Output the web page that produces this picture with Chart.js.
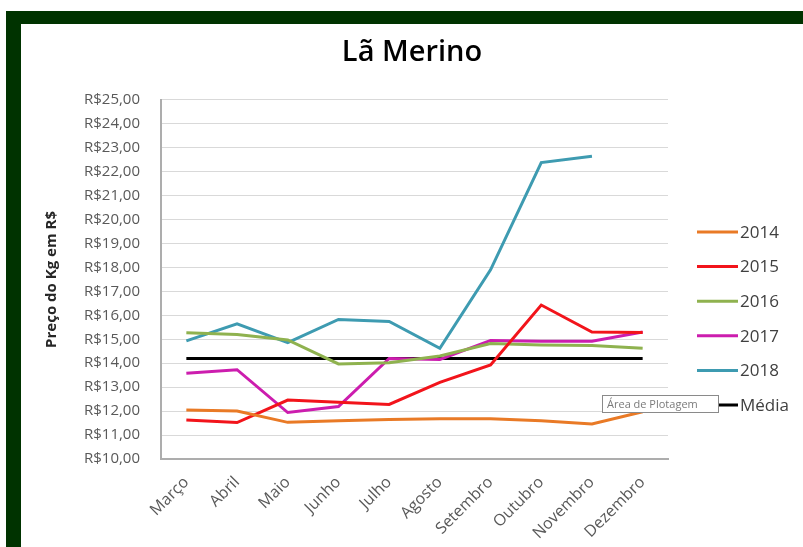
<!DOCTYPE html>
<html>
<head>
<meta charset="utf-8">
<script src="https://cdn.jsdelivr.net/npm/chart.js@4.4.0/dist/chart.umd.min.js"></script>
<style>
  html, body { margin: 0; padding: 0; background: #fff; }
  #frame { position: absolute; left: 6px; top: 11px; width: 797px; height: 536px; background: #003300; }
  #box { position: absolute; left: 21px; top: 24px; width: 782px; height: 523px; background: #fff; }
</style>
</head>
<body>
<div id="frame"></div>
<div id="box"><canvas id="laChart"></canvas></div>
<script>
// months on the x axis
const months = ['Março', 'Abril', 'Maio', 'Junho', 'Julho', 'Agosto', 'Setembro', 'Outubro', 'Novembro', 'Dezembro'];

// price per kg (R$)
const y2014 = [12.05, 12.0, 11.53, 11.6, 11.65, 11.68, 11.68, 11.6, 11.46, 11.97];
const y2015 = [11.63, 11.52, 12.46, 12.37, 12.28, 13.2, 13.93, 16.43, 15.3, 15.28];
const y2016 = [15.27, 15.2, 14.97, 13.97, 14.02, 14.3, 14.82, 14.76, 14.74, 14.62];
const y2017 = [13.58, 13.73, 11.94, 12.19, 14.2, 14.16, 14.95, 14.92, 14.92, 15.3];
const y2018 = [14.93, 15.64, 14.86, 15.83, 15.74, 14.62, 17.9, 22.38, 22.64, null];
const media = [14.2, 14.2, 14.2, 14.2, 14.2, 14.2, 14.2, 14.2, 14.2, 14.2];

const yTickLabels = ['R$10,00', 'R$11,00', 'R$12,00', 'R$13,00', 'R$14,00', 'R$15,00', 'R$16,00',
  'R$17,00', 'R$18,00', 'R$19,00', 'R$20,00', 'R$21,00', 'R$22,00', 'R$23,00', 'R$24,00', 'R$25,00'];

const fontFamily = "'Open Sans', 'Liberation Sans', sans-serif";

function series(label, data, color) {
    return {
        label: label,
        data: data,
        borderColor: color,
        backgroundColor: color,
        borderWidth: 3,
        pointRadius: 0,
        tension: 0,
        fill: false
    };
}

// legend drawn at the right like the Excel one, plus the "Área de Plotagem" hint box
const sideLegend = {
    id: 'sideLegend',
    afterDraw(chart) {
        const ctx = chart.ctx;
        const x0 = 676, x1 = 717, top = 208, step = 34.6;
        ctx.save();
        ctx.font = '17px ' + fontFamily;
        ctx.textBaseline = 'middle';
        chart.data.datasets.forEach((ds, i) => {
            const y = top + i * step;
            ctx.strokeStyle = ds.borderColor;
            ctx.lineWidth = 3;
            ctx.beginPath();
            ctx.moveTo(x0, y);
            ctx.lineTo(x1, y);
            ctx.stroke();
            ctx.fillStyle = '#404040';
            ctx.fillText(ds.label, x1 + 2, y + 1);
        });
        // hint box
        const bx = 581, by = 371, bw = 116, bh = 17;
        ctx.fillStyle = '#fff';
        ctx.fillRect(bx, by, bw, bh);
        ctx.strokeStyle = '#8a8a8a';
        ctx.lineWidth = 1;
        ctx.strokeRect(bx + 0.5, by + 0.5, bw, bh);
        ctx.fillStyle = '#7a7a7a';
        ctx.font = '11px ' + fontFamily;
        ctx.fillText('Área de Plotagem', bx + 5, by + bh / 2 + 1);
        ctx.restore();
    }
};

const ctx = document.getElementById('laChart').getContext('2d');
new Chart(ctx, {
    type: 'line',
    data: {
        labels: months,
        datasets: [
            series('2014', y2014, '#E97A26'),
            series('2015', y2015, '#F2141B'),
            series('2016', y2016, '#8FB24F'),
            series('2017', y2017, '#CC1DAE'),
            series('2018', y2018, '#3E9BB1'),
            series('Média', media, '#000000')
        ]
    },
    options: {
        responsive: true,
        maintainAspectRatio: false,
        animation: false,
        layout: { padding: 0 },
        plugins: {
            legend: { display: false },
            tooltip: { enabled: false },
            title: {
                display: true,
                text: 'Lã Merino',
                color: '#000',
                font: { family: fontFamily, size: 29, weight: '600', lineHeight: 1.2 },
                padding: { top: 11, bottom: 30 }
            }
        },
        scales: {
            x: {
                offset: true,
                grid: { display: false, drawTicks: false },
                border: { display: true, color: '#ADADAD', width: 2 },
                ticks: {
                    autoSkip: false,
                    minRotation: 45,
                    maxRotation: 45,
                    padding: 14,
                    color: '#595959',
                    font: { family: fontFamily, size: 16 }
                },
                afterFit: function(scale) { scale.height = 88; }
            },
            y: {
                min: 10,
                max: 25,
                grid: { color: '#D9D9D9', lineWidth: 1, drawTicks: false },
                border: { display: true, color: '#ADADAD', width: 2 },
                ticks: {
                    stepSize: 1,
                    padding: 21,
                    color: '#595959',
                    font: { family: fontFamily, size: 15 },
                    callback: function(value, index) { return yTickLabels[index]; }
                },
                title: {
                    display: true,
                    text: 'Preço do Kg em R$',
                    color: '#262626',
                    font: { family: fontFamily, size: 15, weight: 'bold', lineHeight: 1.2 },
                    padding: { top: 22, bottom: 0 }
                },
                afterFit: function(scale) { scale.width = 140; }
            },
            // empty right-hand space that holds the legend
            side: {
                type: 'linear',
                position: 'right',
                grid: { display: false, drawTicks: false },
                border: { display: false },
                ticks: { display: false },
                afterFit: function(scale) { scale.width = 135; }
            }
        }
    },
    plugins: [sideLegend]
});
</script>
</body>
</html>
